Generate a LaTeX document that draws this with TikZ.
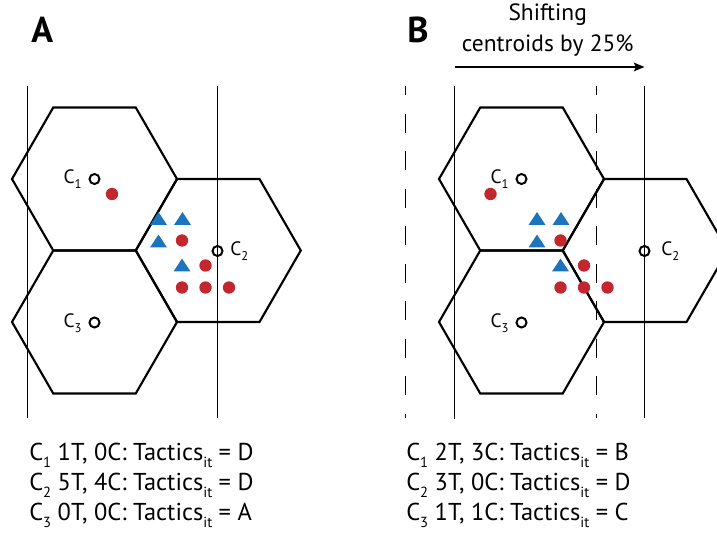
\documentclass[tikz,border=0pt]{standalone}
\usepackage{fontspec}
\setmainfont{PT Sans}
\usetikzlibrary{arrows.meta}

\definecolor{dotred}{HTML}{C1272D}
\definecolor{triblue}{HTML}{1C75BC}

% lowered subscripts for the tallies and for the centroid labels
\newcommand\tallysub[1]{\raisebox{-5pt}{\fontsize{11}{11}\selectfont #1}}
\newcommand\cellsub[1]{\raisebox{-4pt}{\fontsize{9.5}{9.5}\selectfont #1}}

\tikzset{
  hexline/.style={line width=1.6pt, line join=miter},
  gridline/.style={line width=1.1pt},
  shiftline/.style={gridline, dash pattern=on 14.25pt off 13.9pt, dash phase=7.5pt},
  centroid/.style={circle, draw, line width=1.5pt, minimum size=7.5pt, inner sep=0pt},
  clabel/.style={font=\fontsize{14.5}{15}\selectfont, inner sep=0pt},
  tally/.style={font=\fontsize{18.3}{20}\selectfont, inner sep=0pt, anchor=base west},
  caption/.style={font=\fontsize{17.6}{20}\selectfont, inner sep=0pt, anchor=base},
  panel/.style={font=\fontsize{27}{28}\selectfont\bfseries, inner sep=0pt, anchor=base west},
  hexcell/.pic={
    \draw[hexline] (-82.5,0) -- (-41.25,-71.5) -- (41.25,-71.5) -- (82.5,0)
      -- (41.25,71.5) -- (-41.25,71.5) -- cycle;
  },
  bluetri/.pic={\fill[triblue] (-8.5,6.4) -- (8.5,6.4) -- (0,-6.4) -- cycle;},
  reddot/.pic={\fill[dotred] (0,0) circle[radius=6.2];},
  % observed points: treatments (triangles) and controls (dots)
  pointset/.pic={
    \pic at (158.5,218.5) {bluetri};
    \pic at (182.5,218.5) {bluetri};
    \pic at (158.5,241)   {bluetri};
    \pic at (182,265)     {bluetri};
    \pic at (112,194)     {reddot};
    \pic at (182,240.5)   {reddot};
    \pic at (205.5,265.5) {reddot};
    \pic at (182,287.5)   {reddot};
    \pic at (205.5,287.5) {reddot};
    \pic at (229,287.5)   {reddot};
  },
}

\begin{document}
\begin{tikzpicture}[x=0.75pt, y=-0.75pt]
\useasboundingbox (0,0) rectangle (717,538);

% ---------------- panel A ----------------
\node[panel] (labA) at (31,43) {A};

\pic at (94.5,179)    {hexcell};
\pic at (218.25,250.5){hexcell};
\pic at (94.5,322)    {hexcell};

\coordinate (a1t) at (27.5,86);  \coordinate (a1b) at (27.5,418);
\coordinate (a2t) at (217.5,86); \coordinate (a2b) at (217.5,418);
\draw[gridline] (a1t) -- (a1b);
\draw[gridline] (a2t) -- (a2b);

\pic at (0,0) {pointset};

\node[centroid] (ac1) at (94.5,179) {};
\node[centroid] (ac2) at (217.5,251) {};
\node[centroid] (ac3) at (94.5,322.5) {};
\node[clabel, anchor=base east, xshift=-5pt, yshift=-3.4pt] (acl1) at (ac1.west) {C\cellsub{1}};
\node[clabel, anchor=base west, xshift=5pt, yshift=-3.4pt]  (acl2) at (ac2.east) {C\cellsub{2}};
\node[clabel, anchor=base east, xshift=-5pt, yshift=-3.4pt] (acl3) at (ac3.west) {C\cellsub{3}};

\node[tally] (ta1) at (29,460.7) {C\tallysub{1} 1T, 0C: Tactics\tallysub{it} = D};
\node[tally] (ta2) at (29,490.7) {C\tallysub{2} 5T, 4C: Tactics\tallysub{it} = D};
\node[tally] (ta3) at (29,520.7) {C\tallysub{3} 0T, 0C: Tactics\tallysub{it} = A};

% ---------------- panel B ----------------
\node[panel] (labB) at (407,43) {B};

\node[caption] (sh1) at (547.7,21) {Shifting};
\node[caption] (sh2) at (547.7,52) {centroids by 25\%};
\coordinate (arrL) at (454.5,67);
\coordinate (arrR) at (644.5,67);
\draw[line width=1pt, -{Stealth[length=8pt, width=6.5pt, inset=1.5pt]}] (arrL) -- (arrR);

\pic at (521.5,179)    {hexcell};
\pic at (645.25,250.5) {hexcell};
\pic at (521.5,322)    {hexcell};

\coordinate (b1t) at (454.5,86); \coordinate (b1b) at (454.5,419);
\coordinate (b2t) at (644.5,86); \coordinate (b2b) at (644.5,418);
\coordinate (d1t) at (405.5,86); \coordinate (d1b) at (405.5,418);
\coordinate (d2t) at (596.5,86); \coordinate (d2b) at (596.5,418);
\draw[gridline] (b1t) -- (b1b);
\draw[gridline] (b2t) -- (b2b);
\draw[shiftline] (d1t) -- (d1b);
\draw[shiftline] (d2t) -- (d2b);

\pic at (378.5,0) {pointset};

\node[centroid] (bc1) at (521.5,179) {};
\node[centroid] (bc2) at (644.5,251) {};
\node[centroid] (bc3) at (521.5,322.5) {};
\node[clabel, anchor=base east, xshift=-5pt, yshift=-3.4pt] (bcl1) at (bc1.west) {C\cellsub{1}};
\node[clabel, anchor=base west, xshift=8pt, yshift=-3.4pt]  (bcl2) at (bc2.east) {C\cellsub{2}};
\node[clabel, anchor=base east, xshift=-5pt, yshift=-3.4pt] (bcl3) at (bc3.west) {C\cellsub{3}};

\node[tally] (tb1) at (406,460.7) {C\tallysub{1} 2T, 3C: Tactics\tallysub{it} = B};
\node[tally] (tb2) at (406,490.7) {C\tallysub{2} 3T, 0C: Tactics\tallysub{it} = D};
\node[tally] (tb3) at (406,520.7) {C\tallysub{3} 1T, 1C: Tactics\tallysub{it} = C};
\end{tikzpicture}
\end{document}
